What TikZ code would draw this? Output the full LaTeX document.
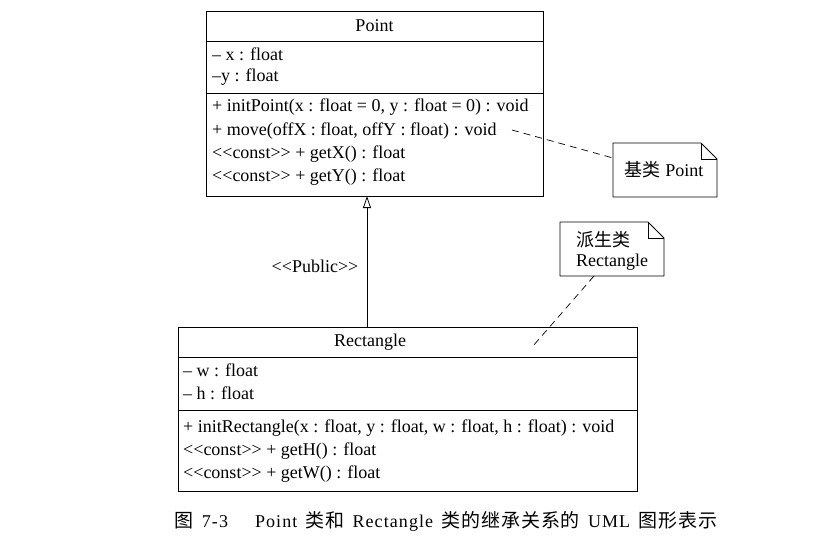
\documentclass[tikz,border=0pt]{standalone}
\usepackage{fontspec}
\setmainfont{Liberation Serif}
\newfontfamily\cjk{Noto Sans CJK SC}
\newfontfamily\capcjk{Noto Sans CJK SC}[LetterSpace=5]
\newfontfamily\caplat{Liberation Serif}[LetterSpace=6]
\usetikzlibrary{arrows.meta}
\newcommand\llt{<\kern0pt<}
\newcommand\ggt{>\kern0pt>}
\newcommand\cgap{\hspace{0.45em}}
\begin{document}
\begin{tikzpicture}[x=1pt,y=-1pt,
  box/.style={draw, line width=0.8pt},
  row/.style={anchor=west, inner sep=0pt, font=\fontsize{18}{21}\selectfont},
  ttl/.style={anchor=center, inner sep=0pt, font=\fontsize{18}{21}\selectfont},
  notebox/.style={draw, line width=0.8pt, fill=white},
  link/.style={draw, line width=0.7pt, dash pattern=on 7pt off 5pt},
  inherit/.style={draw, line width=0.8pt, -{Triangle[open, width=8pt, length=12pt]}}]
\useasboundingbox (0,0) rectangle (840,546);
% Point class
\draw[box] (206,11) rectangle (543,196);
\draw[line width=0.8pt] (206,41) -- (543,41);
\draw[line width=0.8pt] (206,93) -- (543,93);
\node[ttl] (ptitle) at (374.5,26) {Point};
\node[row] (pa1) at (212,54) {– x : float};
\node[row] (pa2) at (212,77) {–y : float};
\node[row] (pm1) at (212,107) {+ initPoint(x : float = 0, y : float = 0) : void};
\node[row] (pm2) at (212,131) {+ move(offX : float, offY : float) : void};
\node[row] (pm3) at (212,154) {\llt const\ggt{} + getX() : float};
\node[row] (pm4) at (212,177) {\llt const\ggt{} + getY() : float};
\coordinate (ptop) at (367,196);
% Rectangle class
\draw[box] (178,327) rectangle (637,491);
\draw[line width=0.8pt] (178,357) -- (637,357);
\draw[line width=0.8pt] (178,410) -- (637,410);
\node[ttl] (rtitle) at (370,342) {Rectangle};
\node[row] (ra1) at (183,370) {– w : float};
\node[row] (ra2) at (183,393) {– h : float};
\node[row] (rm1) at (183,428) {+ initRectangle(x : float, y : float, w : float, h : float) : void};
\node[row] (rm2) at (183,451) {\llt const\ggt{} + getH() : float};
\node[row] (rm3) at (183,474) {\llt const\ggt{} + getW() : float};
\coordinate (rbot) at (367,327);
% inheritance
\draw[inherit] (rbot) -- (ptop);
\node[ttl] (pub) at (315,266) {\llt Public\ggt};
% note 1
\draw[notebox] (613,143) -- (701,143) -- (717,159) -- (717,197) -- (613,197) -- cycle;
\draw[line width=0.8pt] (701,143) -- (701,159) -- (717,159);
\node[ttl] (n1) at (664,170) {{\cjk 基类} Point};
\coordinate (n1a) at (613,158);
\coordinate (n1b) at (512,130);
\draw[link] (n1b) -- (n1a);
% note 2
\draw[notebox] (560,222) -- (648,222) -- (664,238) -- (664,276) -- (560,276) -- cycle;
\draw[line width=0.8pt] (648,222) -- (648,238) -- (664,238);
\node[row] (n2a) at (576,240) {\cjk 派生类};
\node[row] (n2b) at (576,262) {Rectangle};
\coordinate (n2c) at (594,276);
\coordinate (n2d) at (533,346);
\draw[link] (n2c) -- (n2d);
% caption
\node[ttl, font=\fontsize{18}{21}\selectfont] (cap) at (446,521) {{\fontsize{19}{21}\capcjk 图}\cgap{\caplat 7-3}\hspace{1.5em}{\caplat Point}\cgap{\fontsize{19}{21}\capcjk 类和}\cgap{\caplat Rectangle}\cgap{\fontsize{19}{21}\capcjk 类的继承关系的}\cgap{\caplat UML}\cgap{\fontsize{19}{21}\capcjk 图形表示}};
\end{tikzpicture}
\end{document}
